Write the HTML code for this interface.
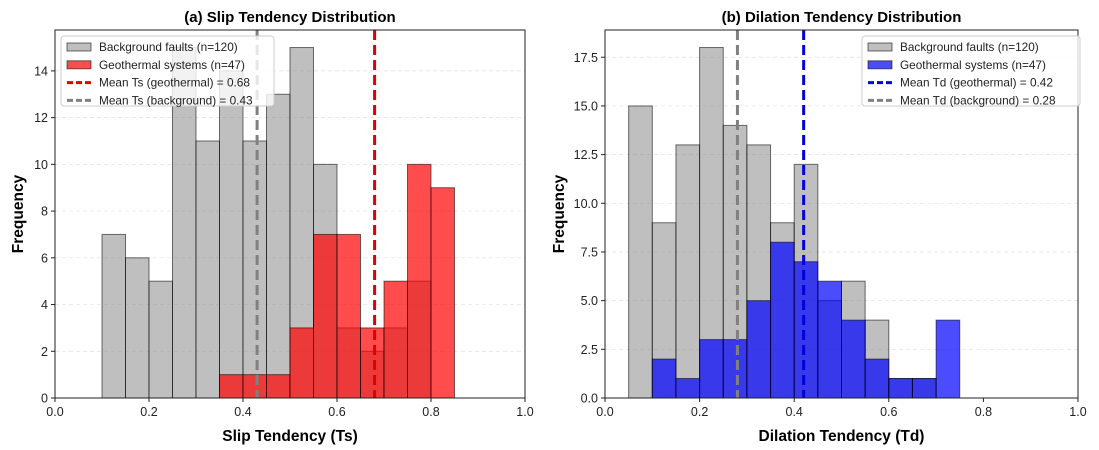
<!DOCTYPE html>
<html><head><meta charset="utf-8"><style>
body{margin:0;background:#fff}
svg{display:block;font-family:"Liberation Sans","DejaVu Sans",sans-serif}
</style></head><body>
<svg id="c" width="1099" height="450"></svg>
<script>
const binStart=[0,0.05,0.1,0.15,0.2,0.25,0.3,0.35,0.4,0.45,0.5,0.55,0.6,0.65,0.7,0.75,0.8,0.85,0.9,0.95];
const slipBackground=[0,0,7,6,5,15,11,14,11,13,15,10,3,2,3,5,0,0,0,0];
const slipGeothermal=[0,0,0,0,0,0,0,1,1,1,3,7,7,3,5,10,9,0,0,0];
const dilBackground=[0,15,9,13,18,14,13,9,12,5,6,4,1,1,0,0,0,0,0,0];
const dilGeothermal=[0,0,2,1,3,3,5,8,7,6,4,2,1,1,4,0,0,0,0,0];
const xTicks=[0,0.2,0.4,0.6,0.8,1.0];
const slipYTicks=[0,2,4,6,8,10,12,14];
const dilYTicks=[0,2.5,5,7.5,10,12.5,15,17.5];
const slipMeans=[0.68,0.43];
const dilMeans=[0.42,0.28];
const NS='http://www.w3.org/2000/svg';
const svg=document.getElementById('c');
function mk(t,a,p){const e=document.createElementNS(NS,t);for(const k in a)e.setAttribute(k,a[k]);(p||svg).appendChild(e);return e;}
function panel(o){
  const L=o.left,R=o.right,T=30,B=398;
  const g=mk('g',{});
  
  
  const xs=v=>L+v*(R-L);
  const ys=v=>B-v/o.ymax*(B-T);
  o.yt.forEach(v=>{if(v>0){const l=mk('line',{x1:L,x2:R,y1:ys(v),y2:ys(v),stroke:'#ccc','stroke-dasharray':'4,3','stroke-width':0.7,opacity:0.6},g);}});
  const bw=0.05;
  [[o.bg,'#808080',0.5,'background-bar'],[o.geo,o.col,0.7,'geothermal-bar']].forEach(([arr,c,a,nm])=>{
    arr.forEach((v,i)=>{if(v<=0)return;
      const r=mk('rect',{x:xs(binStart[i]),y:ys(v),width:xs(binStart[i]+bw)-xs(binStart[i]),height:ys(0)-ys(v),fill:c,'fill-opacity':a,stroke:'#000','stroke-opacity':0.55,'stroke-width':1},g);
      
      
    });
  });
  const m1=mk('line',{x1:xs(o.means[0]),x2:xs(o.means[0]),y1:T,y2:B,stroke:o.lc,'stroke-width':3,'stroke-dasharray':'10,5'},g);
  
  const m2=mk('line',{x1:xs(o.means[1]),x2:xs(o.means[1]),y1:T,y2:B,stroke:'#808080','stroke-width':3,'stroke-dasharray':'10,5'},g);
  
  mk('rect',{x:L,y:T,width:R-L,height:B-T,fill:'none',stroke:'#222','stroke-width':1},g);
  xTicks.forEach(v=>{mk('line',{x1:xs(v),x2:xs(v),y1:B,y2:B+4,stroke:'#222'},g);
    const t=mk('text',{x:xs(v),y:B+18,'text-anchor':'middle','font-size':12.5,fill:'#222'},g);t.textContent=v.toFixed(1);
    });
  o.yt.forEach(v=>{mk('line',{x1:L-4,x2:L,y1:ys(v),y2:ys(v),stroke:'#222'},g);
    const t=mk('text',{x:L-7,y:ys(v)+4.5,'text-anchor':'end','font-size':12.5,fill:'#222'},g);t.textContent=o.ydec?v.toFixed(1):v;
    });
  const tt=mk('text',{x:(L+R)/2,y:22,'text-anchor':'middle','font-size':15,'font-weight':'bold'},g);tt.textContent=o.title;
  
  const xl=mk('text',{x:(L+R)/2,y:441,'text-anchor':'middle','font-size':15.5,'font-weight':'bold'},g);xl.textContent=o.xlabel;
  
  const yl=mk('text',{x:0,y:0,'text-anchor':'middle','font-size':15.5,'font-weight':'bold',transform:`translate(${o.ylx},${(T+B)/2}) rotate(-90)`},g);yl.textContent='Frequency';
  
  const lg=mk('g',{},g);
  
  mk('rect',{x:o.lx,y:36,width:o.lw,height:70,rx:3,fill:'#fff','fill-opacity':0.8,stroke:'#ccc'},lg);
  const items=[['rect','#808080',0.5,`Background faults (n=120)`],['rect',o.col,0.7,`Geothermal systems (n=47)`],['line',o.lc,1,o.ml[0]],['line','#808080',1,o.ml[1]]];
  items.forEach((it,i)=>{const y=47+i*17.8;
    if(it[0]=='rect')mk('rect',{x:o.lx+6,y:y-4,width:24,height:8,fill:it[1],'fill-opacity':it[2],stroke:'#000','stroke-opacity':0.55},lg);
    else mk('line',{x1:o.lx+6,x2:o.lx+30,y1:y,y2:y,stroke:it[1],'stroke-width':3,'stroke-dasharray':'6,3'},lg);
    const t=mk('text',{x:o.lx+38,y:y+4,'font-size':11.8,fill:'#222'},lg);t.textContent=it[3];
    });
}
panel({name:'slip-tendency-panel',left:55,right:525,ymax:15.75,bg:slipBackground,geo:slipGeothermal,col:'#ff0000',lc:'#e00000',means:slipMeans,yt:slipYTicks,ydec:false,title:'(a) Slip Tendency Distribution',xlabel:'Slip Tendency (Ts)',ylx:23,lx:61,lw:213,ml:['Mean Ts (geothermal) = 0.68','Mean Ts (background) = 0.43']});
panel({name:'dilation-tendency-panel',left:605,right:1078,ymax:18.9,bg:dilBackground,geo:dilGeothermal,col:'#0000ff',lc:'#0000dd',means:dilMeans,yt:dilYTicks,ydec:true,title:'(b) Dilation Tendency Distribution',xlabel:'Dilation Tendency (Td)',ylx:564,lx:862,lw:218,ml:['Mean Td (geothermal) = 0.42','Mean Td (background) = 0.28']});
</script>
</body></html>
